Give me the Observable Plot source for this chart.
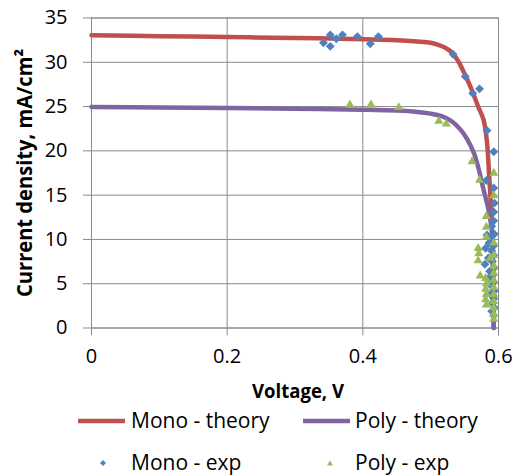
<!DOCTYPE html>
<html><head><meta charset="utf-8">
<script src="https://cdn.jsdelivr.net/npm/d3@7"></script>
<script src="https://cdn.jsdelivr.net/npm/@observablehq/plot@0.6"></script>
<style>
body{margin:0;background:#fff;font-family:"Open Sans",sans-serif;}
#legend{position:relative;width:514px;height:65px;font-size:21px;color:#000;}
#legend .t{position:absolute;line-height:30px;white-space:nowrap;}
#legend svg{position:absolute;overflow:visible;}
</style></head><body>
<div id="chart"></div>
<div id="legend"></div>
<script>
// ---- data ----
const xTicks = [0, 0.2, 0.4, 0.6];
const yTicks = [0, 5, 10, 15, 20, 25, 30, 35];
const xTitle = "Voltage, V";
const yTitle = "Current density, mA/cm²";
const seriesNames = ["Mono - theory", "Poly - theory", "Mono - exp", "Poly - exp"];
const seriesColors = ["#C0504D", "#8064A2", "#4F81BD", "#9BBB59"];

const monoTheoryV = [0, 0.1, 0.2, 0.3, 0.4, 0.45, 0.48, 0.5, 0.51, 0.52, 0.53, 0.54, 0.55, 0.56, 0.57, 0.578, 0.583, 0.586, 0.589, 0.591, 0.592, 0.593];
const monoTheoryJ = [33.05, 32.95, 32.85, 32.75, 32.6, 32.5, 32.35, 32.2, 32.0, 31.7, 31.2, 30.2, 28.7, 27.0, 25.0, 23.5, 21.0, 17.5, 13.5, 9.0, 5.0, 0];

const polyTheoryV = [0, 0.1, 0.2, 0.3, 0.4, 0.45, 0.48, 0.5, 0.515, 0.53, 0.544, 0.554, 0.564, 0.571, 0.578, 0.584, 0.588, 0.591, 0.592, 0.5925, 0.593];
const polyTheoryJ = [24.95, 24.9, 24.85, 24.75, 24.65, 24.55, 24.4, 24.2, 23.95, 23.4, 22.4, 21.3, 19.7, 17.9, 15.6, 13.8, 12.2, 10.5, 6.0, 2.0, 0];

const monoExpV = [0.342, 0.352, 0.352, 0.361, 0.370, 0.392, 0.411, 0.423, 0.533, 0.551, 0.562, 0.572, 0.583, 0.593, 0.582, 0.593, 0.594, 0.593, 0.593, 0.590, 0.594, 0.583, 0.589, 0.586, 0.593, 0.581, 0.590, 0.593, 0.585, 0.591, 0.580, 0.594, 0.587, 0.592, 0.585, 0.593, 0.590, 0.594, 0.588, 0.593, 0.591, 0.594, 0.590, 0.593];
const monoExpJ = [32.2, 33.1, 31.8, 32.65, 33.1, 32.9, 32.1, 32.9, 30.9, 28.4, 26.5, 27.0, 22.3, 19.9, 16.65, 15.8, 14.1, 13.1, 12.1, 11.5, 10.6, 10.5, 10.0, 9.6, 9.3, 9.0, 8.7, 8.2, 7.9, 7.5, 7.2, 6.8, 6.4, 6.0, 5.6, 5.2, 4.7, 4.2, 3.8, 3.3, 2.8, 2.3, 1.9, 1.4];

const polyExpV = [0.381, 0.412, 0.453, 0.512, 0.523, 0.561, 0.593, 0.572, 0.593, 0.582, 0.582, 0.582, 0.593, 0.570, 0.571, 0.570, 0.573, 0.593, 0.588, 0.581, 0.582, 0.581, 0.593, 0.582, 0.581, 0.593, 0.582, 0.593, 0.593, 0.593, 0.593, 0.593, 0.593, 0.593];
const polyExpJ = [25.2, 25.2, 24.9, 23.35, 23.05, 18.8, 17.5, 16.7, 14.96, 12.6, 11.4, 10.25, 9.6, 9.0, 8.4, 7.6, 5.9, 8.2, 7.9, 5.6, 5.0, 4.4, 7.0, 3.8, 3.2, 6.2, 2.6, 5.4, 4.6, 3.8, 3.0, 2.3, 1.6, 1.0];

// ---- build tables ----
const toRows = (V, J) => V.map((v, i) => ({V: v, J: J[i]}));
const monoTheory = toRows(monoTheoryV, monoTheoryJ);
const polyTheory = toRows(polyTheoryV, polyTheoryJ);
const monoExp = toRows(monoExpV, monoExpJ);
const polyExp = toRows(polyExpV, polyExpJ);

const grid = "#8a8a8a";
const chart = Plot.plot({
  width: 514, height: 410,
  marginLeft: 91, marginRight: 16, marginTop: 17.5, marginBottom: 82.5,
  x: {domain: [0, 0.6]},
  y: {domain: [0, 35]},
  style: {fontFamily: "Open Sans", fontSize: "20px", color: "#000", background: "#fff", overflow: "visible"},
  marks: [
    Plot.gridY(yTicks, {stroke: grid, strokeOpacity: 1}),
    Plot.gridX(xTicks, {stroke: grid, strokeOpacity: 1}),
    Plot.frame({stroke: grid}),
    Plot.axisY(yTicks, {tickSize: 8, tickPadding: 16, stroke: grid, label: null, fontSize: 20}),
    Plot.axisX(xTicks, {tickSize: 8, tickPadding: 13, stroke: grid, label: null, fontSize: 20, tickFormat: d => String(d)}),
    Plot.line(monoTheory, {x: "V", y: "J", stroke: seriesColors[0], strokeWidth: 4.5, curve: "catmull-rom"}),
    Plot.line(polyTheory, {x: "V", y: "J", stroke: seriesColors[1], strokeWidth: 4.5, curve: "catmull-rom"}),
    Plot.dot(monoExp, {x: "V", y: "J", symbol: "diamond2", r: 4, fill: seriesColors[2], stroke: "none"}),
    Plot.dot(polyExp, {x: "V", y: "J", symbol: "triangle", r: 3.4, fill: seriesColors[3], stroke: "none"}),
    Plot.text([yTitle], {frameAnchor: "left", dx: -66, rotate: -90, textAnchor: "middle", lineAnchor: "middle", fontWeight: "bold", fontSize: 21, fill: "#000"}),
    Plot.text([xTitle], {frameAnchor: "bottom", dx: 3, dy: 64, textAnchor: "middle", lineAnchor: "middle", fontWeight: "bold", fontSize: 20, fill: "#000"})
  ]
});
// compress bold titles to the reference's narrower face
for (const t of chart.querySelectorAll("text")) {
  if (t.textContent === yTitle) { t.setAttribute("textLength", 248); t.setAttribute("lengthAdjust", "spacingAndGlyphs"); }
  if (t.textContent === xTitle) { t.setAttribute("textLength", 92); t.setAttribute("lengthAdjust", "spacingAndGlyphs"); }
}
document.getElementById("chart").appendChild(chart);

// ---- legend (HTML) ----
const legend = document.getElementById("legend");
const items = [
  {name: seriesNames[0], color: seriesColors[0], kind: "line", sx: 78, tx: 131, row: 0},
  {name: seriesNames[1], color: seriesColors[1], kind: "line", sx: 303, tx: 355, row: 0},
  {name: seriesNames[2], color: seriesColors[2], kind: "diamond", sx: 103, tx: 131, row: 1},
  {name: seriesNames[3], color: seriesColors[3], kind: "triangle", sx: 330, tx: 355, row: 1}
];
const rowCenter = [10.5, 53];
for (const it of items) {
  const cy = rowCenter[it.row];
  const ns = "http://www.w3.org/2000/svg";
  const s = document.createElementNS(ns, "svg");
  s.setAttribute("width", 1); s.setAttribute("height", 1);
  s.style.left = it.sx + "px"; s.style.top = cy + "px";
  let shape;
  if (it.kind === "line") {
    shape = document.createElementNS(ns, "line");
    shape.setAttribute("x1", 0); shape.setAttribute("x2", 47);
    shape.setAttribute("y1", 0); shape.setAttribute("y2", 0);
    shape.setAttribute("stroke", it.color); shape.setAttribute("stroke-width", 4.5);
  } else if (it.kind === "diamond") {
    shape = document.createElementNS(ns, "path");
    shape.setAttribute("d", "M0,-3L3,0L0,3L-3,0Z");
    shape.setAttribute("fill", it.color);
  } else {
    shape = document.createElementNS(ns, "path");
    shape.setAttribute("d", "M0,-2.6L3,2.4L-3,2.4Z");
    shape.setAttribute("fill", it.color);
  }
  s.appendChild(shape);
  legend.appendChild(s);
  const t = document.createElement("div");
  t.className = "t";
  t.textContent = it.name;
  t.style.left = it.tx + "px";
  t.style.top = (cy - 16) + "px";
  legend.appendChild(t);
}
</script>
</body></html>
